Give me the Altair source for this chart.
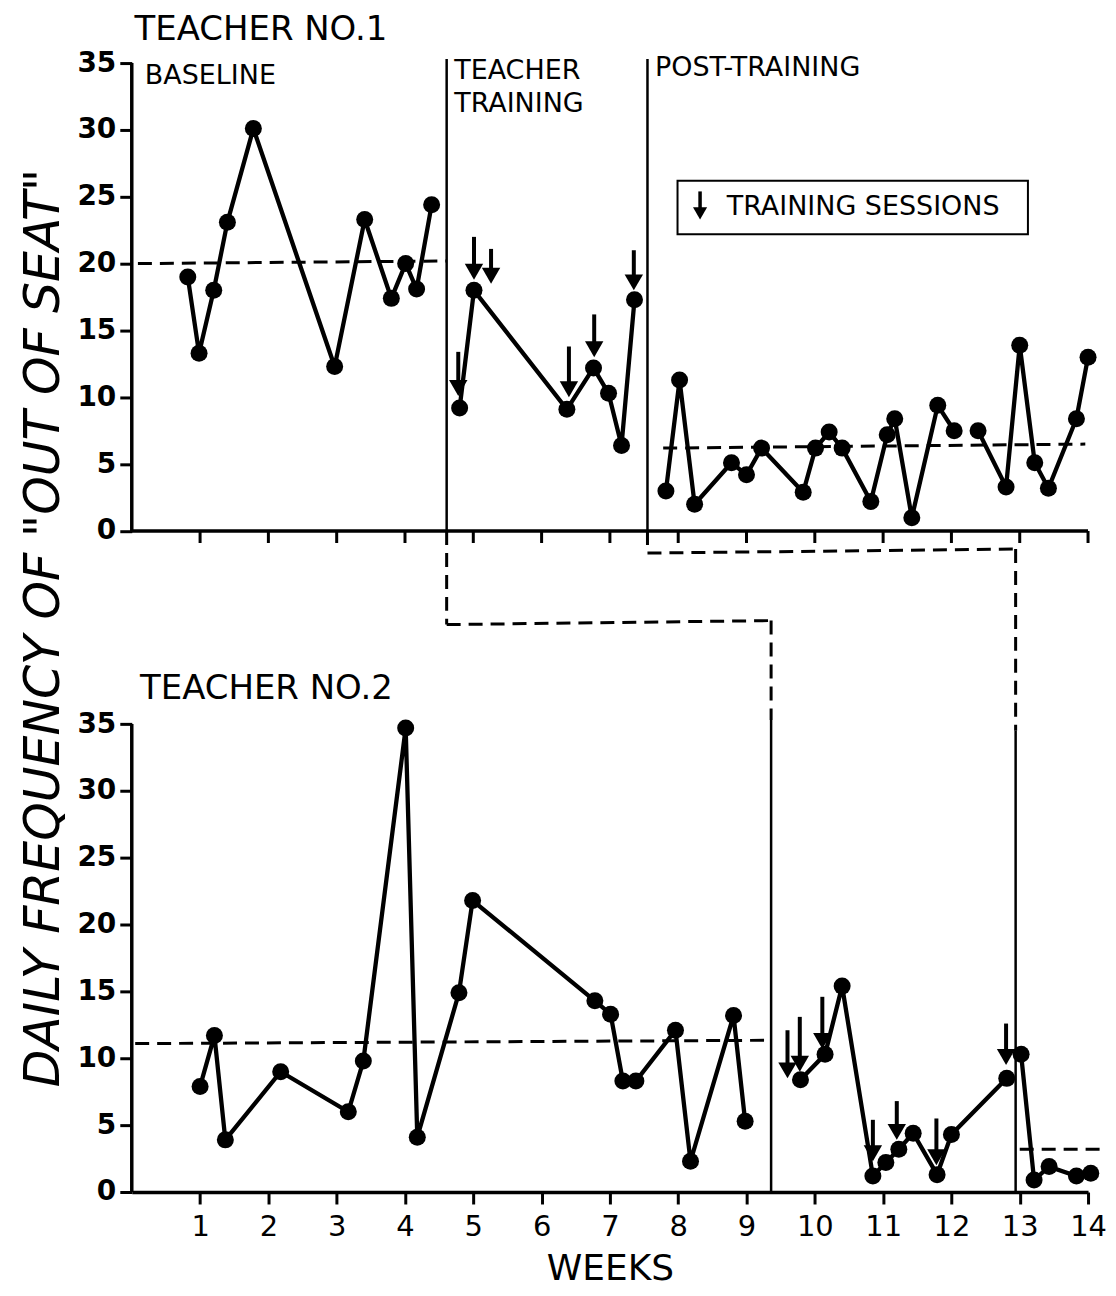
import altair as alt
import pandas as pd

# ---------------- data ----------------
# Teacher No.1  (week position, daily frequency)
t1_base_w = [0.82, 0.985, 1.2, 1.4, 1.78, 2.97, 3.41, 3.8, 4.01, 4.17, 4.39]
t1_base_v = [19.0, 13.3, 18.0, 23.1, 30.1, 12.3, 23.3, 17.4, 20.0, 18.1, 24.4]

t1_train_w = [4.8, 5.01, 6.37, 6.76, 6.98, 7.17, 7.36]
t1_train_v = [9.2, 18.0, 9.1, 12.2, 10.3, 6.4, 17.3]

t1_post_w = [7.82, 8.02, 8.24, 8.78, 9.0, 9.22, 9.83, 10.01, 10.21, 10.4, 10.82, 11.06,
             11.17, 11.42, 11.8, 12.04, 12.39, 12.8, 13.0, 13.22, 13.42, 13.83, 14.0]
t1_post_v = [3.0, 11.3, 2.0, 5.1, 4.2, 6.2, 2.9, 6.2, 7.4, 6.2, 2.2, 7.2,
             8.4, 1.0, 9.4, 7.5, 7.5, 3.3, 13.9, 5.1, 3.2, 8.4, 13.0]
t1_post_break = 16          # line is interrupted before this point

t1_arrow_w = [4.78, 5.01, 5.26, 6.4, 6.77, 7.35]
t1_arrow_top = [13.4, 22.0, 21.1, 13.8, 16.2, 21.0]
t1_arrow_tip = [10.1, 18.8, 18.5, 10.0, 13.0, 18.0]

t1_mean_base = [20.0, 20.2]   # dashed level (start, end)
t1_mean_post = [6.2, 6.5]

# Teacher No.2
t2_base_w = [1.0, 1.21, 1.37, 2.18, 3.17, 3.39, 4.01, 4.18, 4.79, 4.99,
             6.78, 7.01, 7.19, 7.38, 7.96, 8.18, 8.81, 8.98]
t2_base_v = [7.9, 11.7, 3.9, 9.0, 6.0, 9.8, 34.7, 4.1, 14.9, 21.8,
             14.3, 13.3, 8.3, 8.3, 12.1, 2.3, 13.2, 5.3]

t2_train_w = [9.79, 10.15, 10.4, 10.85, 11.04, 11.23, 11.44, 11.79, 12.0, 12.81]
t2_train_v = [8.4, 10.3, 15.4, 1.2, 2.2, 3.2, 4.4, 1.3, 4.3, 8.5]

t2_post_w = [13.02, 13.21, 13.43, 13.83, 14.04]
t2_post_v = [10.3, 0.9, 1.9, 1.2, 1.4]

t2_arrow_w = [9.6, 9.78, 10.11, 10.85, 11.2, 11.78, 12.8]
t2_arrow_top = [12.1, 13.1, 14.6, 5.4, 6.8, 5.5, 12.6]
t2_arrow_tip = [8.5, 9.0, 10.7, 2.3, 3.9, 2.0, 9.5]

t2_mean_base = [11.1, 11.35]
t2_mean_post = [3.2, 3.2]

# phase change weeks
t1_phase = [4.61, 7.55]
t2_phase = [9.36, 12.94]

weeks = list(range(1, 15))
y_ticks = [0, 5, 10, 15, 20, 25, 30, 35]

# ---------------- layout constants ----------------
OFF = 49.44          # vertical offset of the upper panel (chart units)
YMAX = 35
PX = 1131 / (OFF + YMAX)   # pixels per unit on y
HEAD = 340                 # arrow head symbol size
HEAD_OFF = (HEAD ** 0.5 / 2) * 0.866 / PX
LG_HEAD = 200
LG_HEAD_OFF = (LG_HEAD ** 0.5 / 2) * 0.866 / PX
FONT = "DejaVu Sans"

# ---------------- build tables ----------------
pts = []
def add_series(ws, vs, off, seg, brk=None):
    s = seg
    for i, (w, v) in enumerate(zip(ws, vs)):
        if brk is not None and i == brk:
            s = seg + "_b"
        pts.append({"w": w, "y": v + off, "seg": s, "i": i})

add_series(t1_base_w, t1_base_v, OFF, "t1a")
add_series(t1_train_w, t1_train_v, OFF, "t1b")
add_series(t1_post_w, t1_post_v, OFF, "t1c", t1_post_break)
add_series(t2_base_w, t2_base_v, 0, "t2a")
add_series(t2_train_w, t2_train_v, 0, "t2b")
add_series(t2_post_w, t2_post_v, 0, "t2c")
pts = pd.DataFrame(pts)

arrows = []
for ws, tops, tips, off in [(t1_arrow_w, t1_arrow_top, t1_arrow_tip, OFF),
                            (t2_arrow_w, t2_arrow_top, t2_arrow_tip, 0)]:
    for w, t, p in zip(ws, tops, tips):
        arrows.append({"w": w, "y": t + off, "y2": p + off + HEAD_OFF})
arrows = pd.DataFrame(arrows)

solid = pd.DataFrame([
    {"x": t1_phase[0], "y": OFF + 35.3, "x2": t1_phase[0], "y2": OFF},
    {"x": t1_phase[1], "y": OFF + 35.3, "x2": t1_phase[1], "y2": OFF},
    {"x": t2_phase[0], "y": 35.3, "x2": t2_phase[0], "y2": 0},
    {"x": t2_phase[1], "y": 34.5, "x2": t2_phase[1], "y2": 0},
])
C1 = OFF - 7.0
C2 = OFF - 1.65
dashed = pd.DataFrame([
    {"x": t1_phase[0], "y": OFF, "x2": t1_phase[0], "y2": C1},
    {"x": t1_phase[0], "y": C1, "x2": t2_phase[0], "y2": C1 + 0.3},
    {"x": t2_phase[0], "y": C1 + 0.3, "x2": t2_phase[0], "y2": 35.3},
    {"x": t1_phase[1], "y": OFF, "x2": t1_phase[1], "y2": C2},
    {"x": t1_phase[1], "y": C2, "x2": t2_phase[1], "y2": C2 + 0.3},
    {"x": t2_phase[1], "y": C2 + 0.3, "x2": t2_phase[1], "y2": 34.5},
    {"x": 0.09, "y": t1_mean_base[0] + OFF, "x2": t1_phase[0], "y2": t1_mean_base[1] + OFF},
    {"x": 7.78, "y": t1_mean_post[0] + OFF, "x2": 13.96, "y2": t1_mean_post[1] + OFF},
    {"x": 0.05, "y": t2_mean_base[0], "x2": t2_phase[0], "y2": t2_mean_base[1]},
    {"x": 13.0, "y": t2_mean_post[0], "x2": 14.2, "y2": t2_mean_post[1]},
])

axis_lines = pd.DataFrame([
    {"x": 0, "y": OFF, "x2": 14, "y2": OFF},
    {"x": 0, "y": OFF, "x2": 0, "y2": OFF + YMAX},
    {"x": 0, "y": 0, "x2": 0, "y2": YMAX},
])
top_ticks = pd.DataFrame({"w": weeks, "y": [OFF] * len(weeks),
                          "y2": [OFF - 12 / PX] * len(weeks)})

texts = pd.DataFrame([
    {"w": 0.04, "y": OFF + 37.5, "t": "TEACHER NO.1", "fs": 34},
    {"w": 0.19, "y": OFF + 34.0, "t": "BASELINE", "fs": 27},
    {"w": 4.72, "y": OFF + 34.4, "t": "TEACHER", "fs": 27},
    {"w": 4.72, "y": OFF + 31.9, "t": "TRAINING", "fs": 27},
    {"w": 7.66, "y": OFF + 34.6, "t": "POST-TRAINING", "fs": 27},
    {"w": 0.12, "y": 37.6, "t": "TEACHER NO.2", "fs": 34},
    {"w": 8.71, "y": OFF + 24.2, "t": "TRAINING SESSIONS", "fs": 27},
])
legend_box = pd.DataFrame([{"x": 7.99, "x2": 13.12, "y": OFF + 26.2, "y2": OFF + 22.2}])
legend_arrow = pd.DataFrame([{"w": 8.32, "y": OFF + 25.4, "y2": OFF + 23.3 + LG_HEAD_OFF}])

# ---------------- scales ----------------
xs = alt.Scale(domain=[0, 14], nice=False, zero=False)
ys = alt.Scale(domain=[0, OFF + YMAX], nice=False, zero=False)

y_vals = y_ticks + [OFF + v for v in y_ticks]

X = alt.X("w:Q", scale=xs, axis=alt.Axis(
    values=weeks, format="d", labelOverlap=False, labelFlush=False,
    title="WEEKS", grid=False, tickSize=12, tickWidth=3,
    tickColor="black", domainColor="black", domainWidth=3.5,
    labelFont=FONT, labelFontSize=29, labelColor="black", labelPadding=9,
    titleFont=FONT, titleFontSize=36, titleFontWeight="normal",
    titleColor="black", titlePadding=10))
Y = alt.Y("y:Q", scale=ys, axis=alt.Axis(
    values=y_vals, grid=False, domain=False, tickSize=12, tickWidth=3,
    tickColor="black", labelOverlap=False,
    labelExpr=f"datum.value > 40 ? format(datum.value - {OFF}, '.0f') : format(datum.value, '.0f')",
    labelFont=FONT, labelFontSize=28, labelFontWeight="bold", labelColor="black",
    labelPadding=4,
    title='DAILY FREQUENCY OF "OUT OF SEAT"', titleFont=FONT, titleFontSize=49,
    titleFontStyle="italic", titleFontWeight="normal", titleColor="black",
    titlePadding=8))

base_pts = alt.Chart(pts)
lines = base_pts.mark_line(color="black", strokeWidth=4.3).encode(
    x=X, y=Y, detail="seg:N", order="i:Q")
dots = base_pts.mark_circle(color="black", size=290, opacity=1).encode(x="w:Q", y="y:Q")

def rules(df, **kw):
    return alt.Chart(df).mark_rule(color="black", **kw).encode(
        x="x:Q", y="y:Q", x2="x2:Q", y2="y2:Q")

solid_l = rules(solid, strokeWidth=2.5)
dashed_l = rules(dashed, strokeWidth=3, strokeDash=[14, 8])
axes_l = rules(axis_lines, strokeWidth=3.5)
tick_l = alt.Chart(top_ticks).mark_rule(color="black", strokeWidth=3).encode(
    x="w:Q", y="y:Q", y2="y2:Q")

shafts = alt.Chart(arrows).mark_rule(color="black", strokeWidth=4).encode(
    x="w:Q", y="y:Q", y2="y2:Q")
heads = alt.Chart(arrows).mark_point(shape="triangle-down", filled=True, color="black",
                                     size=HEAD, opacity=1).encode(x="w:Q", y="y2:Q")

box = alt.Chart(legend_box).mark_rect(fill="white", stroke="black", strokeWidth=2).encode(
    x="x:Q", x2="x2:Q", y="y:Q", y2="y2:Q")
lg_shaft = alt.Chart(legend_arrow).mark_rule(color="black", strokeWidth=3.5).encode(
    x="w:Q", y="y:Q", y2="y2:Q")
lg_head = alt.Chart(legend_arrow).mark_point(shape="triangle-down", filled=True, color="black",
                                             size=LG_HEAD, opacity=1).encode(x="w:Q", y="y2:Q")

labels = alt.Chart(texts).mark_text(align="left", baseline="middle", font=FONT,
                                    color="black").encode(
    x="w:Q", y="y:Q", text="t:N", size=alt.Size("fs:Q", scale=None))

chart = alt.layer(
    lines, solid_l, dashed_l, axes_l, tick_l, dots, shafts, heads,
    box, lg_shaft, lg_head, labels
).properties(
    width=958, height=1131,
    autosize=alt.AutoSizeParams(type="none"),
    padding={"left": 124, "top": 54, "right": 20, "bottom": 96},
    background="white",
).configure_view(stroke=None)

chart.save("out.html", embed_options={"renderer": "svg", "actions": False})
